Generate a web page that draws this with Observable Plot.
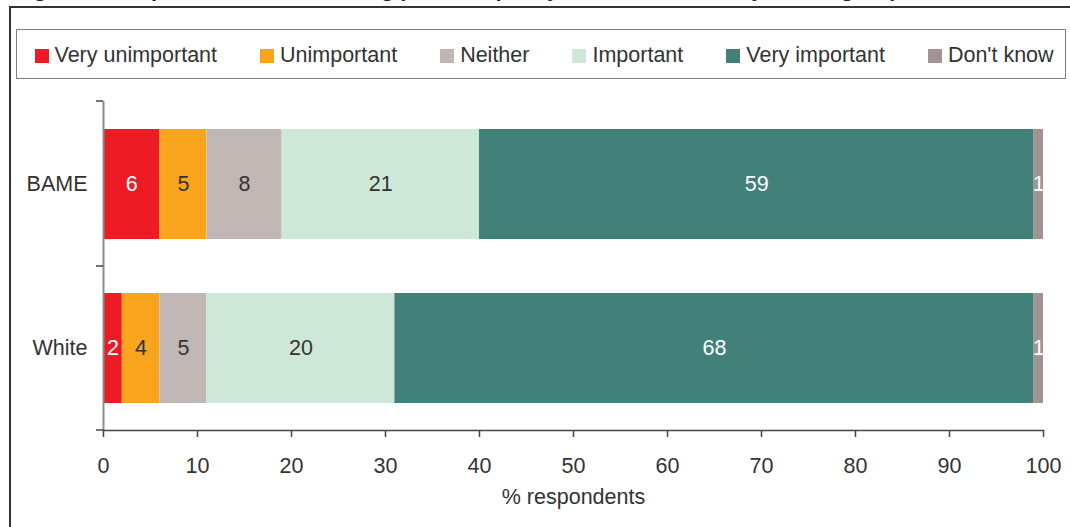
<!DOCTYPE html>
<html>
<head>
<meta charset="utf-8">
<script src="https://cdn.jsdelivr.net/npm/d3@7"></script>
<script src="https://cdn.jsdelivr.net/npm/@observablehq/plot@0.6"></script>
<style>
  html, body { margin: 0; padding: 0; background: #fff; }
  #page {
    position: relative; width: 1070px; height: 527px; overflow: hidden;
    font-family: "Liberation Sans", Arial, sans-serif; color: #333;
  }
  #title {
    position: absolute; left: 14px; top: -22px;
    font-size: 22px; font-weight: bold; line-height: 22px;
    white-space: nowrap; color: #222;
  }
  .frame-top { position: absolute; left: 9px; top: 6px; width: 1061px; height: 2px; background: #333; }
  .frame-left { position: absolute; left: 9px; top: 6px; width: 2px; height: 521px; background: #333; }
  #legend {
    position: absolute; left: 16px; top: 29px; width: 1050px; height: 50px;
    box-sizing: border-box; border: 1.5px solid #7f7f7f;
    display: flex; align-items: flex-start; gap: 43px;
    padding-left: 17.5px; padding-top: 13.5px;
    font-size: 21.5px;
  }
  .item { display: flex; align-items: center; height: 24px; line-height: 24px; white-space: nowrap; }
  .sw { width: 14px; height: 14px; margin-right: 6px; }
  .lab { position: relative; top: -1px; }
  #chart { position: absolute; left: 0; top: 85px; }
</style>
</head>
<body>
<div id="page">
  <div id="chart"></div>
  <div id="title"></div>
  <div id="legend"></div>
  <div class="frame-top"></div>
  <div class="frame-left"></div>
</div>
<script>
// Survey responses: importance rating by ethnic group (% respondents)
const titleText = "Figure 10: Importance of addressing poor air quality in the local area by ethnic group";
const groups = ["BAME", "White"];
const responses = ["Very unimportant", "Unimportant", "Neither", "Important", "Very important", "Don't know"];
const bameValues = [6, 5, 8, 21, 59, 1];
const whiteValues = [2, 4, 5, 20, 68, 1];
const responseColors = ["#ED1C24", "#F8A51D", "#C1B8B5", "#CDE8D7", "#42817A", "#A29490"];
const lightLabelResponses = ["Very unimportant", "Very important", "Don't know"];
const xTicks = [0, 10, 20, 30, 40, 50, 60, 70, 80, 90, 100];
const xLabel = "% respondents";

const valuesByGroup = {BAME: bameValues, White: whiteValues};
const rows = groups.flatMap(group =>
  responses.map((response, i) => ({group, response, value: valuesByGroup[group][i]}))
);
const isLight = d => lightLabelResponses.includes(d.response);

document.getElementById("title").textContent = titleText;

// HTML legend row
const legend = d3.select("#legend");
const items = legend.selectAll(".item").data(responses).join("div").attr("class", "item");
items.append("div").attr("class", "sw").style("background", (d, i) => responseColors[i]);
items.append("span").attr("class", "lab").text(d => d);

const font = "Liberation Sans, Arial, sans-serif";
const fs = 21.5;

const plot = Plot.plot({
  width: 1070,
  height: 442,
  marginTop: 16,
  marginBottom: 97,
  marginLeft: 103,
  marginRight: 27,
  style: {background: "transparent", fontFamily: font, color: "#333", overflow: "visible"},
  x: {domain: [0, 100]},
  y: {domain: groups, paddingInner: 0.332, paddingOuter: 0.166},
  color: {domain: responses, range: responseColors},
  marks: [
    Plot.barX(rows, Plot.stackX({x: "value", y: "group", z: "response", fill: "response", order: responses})),
    Plot.text(rows, Plot.stackX({
      x: "value", y: "group", z: "response", order: responses,
      text: d => isLight(d) ? String(d.value) : "",
      fill: "#fff", fontSize: fs
    })),
    Plot.text(rows, Plot.stackX({
      x: "value", y: "group", z: "response", order: responses,
      text: d => isLight(d) ? "" : String(d.value),
      fill: "#333", fontSize: fs
    })),
    Plot.ruleX([0], {stroke: "#8c8c8c", strokeWidth: 2}),
    Plot.frame({anchor: "bottom", stroke: "#444", strokeWidth: 1.5}),
    Plot.axisX({ticks: xTicks, tickSize: 7, tickPadding: 20, fontSize: fs, label: null, stroke: "#444", strokeWidth: 1.5, strokeOpacity: 1, fill: "#333"}),
    Plot.axisY({tickSize: 0, tickPadding: 16, fontSize: fs, label: null, fill: "#333"}),
    Plot.text([xLabel], {frameAnchor: "bottom", dy: 73, fontSize: fs, fill: "#333"})
  ]
});

// Category boundary ticks on the y axis (between the bands)
const ys = plot.scale("y");
const xs = plot.scale("x");
const x0 = xs.apply(0);
const [r0, r1] = ys.range;
const edges = [r0];
for (let i = 1; i < groups.length; i++) {
  edges.push((ys.apply(groups[i - 1]) + ys.bandwidth + ys.apply(groups[i])) / 2);
}
edges.push(r1);
d3.select(plot).append("g")
  .attr("stroke", "#444").attr("stroke-width", 1.5)
  .selectAll("line").data(edges).join("line")
  .attr("x1", x0 - 7).attr("x2", x0)
  .attr("y1", d => d).attr("y2", d => d);

document.getElementById("chart").append(plot);
</script>
</body>
</html>
